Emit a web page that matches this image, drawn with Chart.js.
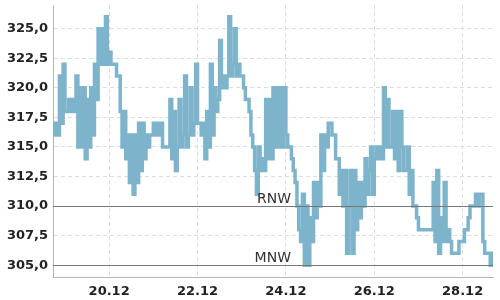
<!DOCTYPE html>
<html>
<head>
<meta charset="utf-8">
<script src="https://cdn.jsdelivr.net/npm/chart.js@4"></script>
<style>
    html, body { margin: 0; padding: 0; background: #fff; }
    #wrap { width: 500px; height: 300px; }
</style>
</head>
<body>
<div id="wrap"><canvas id="pegelChart"></canvas></div>
<script>
// Stundenwerte ab 18.12 17:30 (Stunden seit 18.12 00:00)
const firstHour = 17.5;
const waterLevel = [
    317, 316, 317, 316, 321, 317, 322, 318, 318, 319, 318, 319, 318, 321, 315, 320,
    315, 320, 314, 319, 315, 320, 316, 322, 319, 325, 322, 325, 322, 326, 322, 323,
    322, 322, 322, 321, 321, 318, 315, 318, 314, 316, 312, 316, 311, 316, 312, 317,
    313, 317, 314, 316, 315, 316, 316, 317, 316, 317, 316, 317, 315, 315, 315, 315,
    319, 314, 318, 313, 315, 319, 315, 316, 321, 315, 316, 320, 316, 317, 322, 317,
    317, 316, 317, 314, 318, 315, 322, 316, 320, 318, 319, 324, 320, 321, 320, 321,
    326, 321, 322, 325, 321, 322, 321, 321, 320, 319, 319, 318, 316, 315, 313, 311,
    315, 313, 314, 313, 319, 314, 319, 314, 320, 315, 320, 315, 320, 315, 320, 316,
    315, 315, 314, 313, 312, 310, 308, 307, 311, 305, 310, 305, 309, 307, 312, 309,
    312, 310, 316, 313, 316, 315, 317, 317, 316, 316, 314, 314, 311, 313, 310, 313,
    306, 310, 313, 306, 313, 308, 312, 309, 312, 310, 314, 311, 313, 315, 311, 314,
    315, 314, 315, 314, 320, 315, 319, 315, 315, 318, 314, 318, 313, 318, 315, 313,
    313, 315, 311, 313, 310, 310, 309, 308, 308, 308, 308, 308, 308, 308, 308, 312,
    307, 313, 306, 309, 307, 312, 307, 308, 307, 306, 306, 306, 306, 307, 307, 307,
    308, 308, 309, 310, 310, 310, 311, 310, 311, 311, 307, 306, 306, 306, 305, 306
];
const axisMin = 17.5;
const axisMax = 256.5;
const tickHours = [48, 96, 144, 192, 240];
const tickDays = ['20.12', '22.12', '24.12', '26.12', '28.12'];
const yTicks = [305, 307.5, 310, 312.5, 315, 317.5, 320, 322.5, 325];
const refValues = [310, 305];
const refNames = ['RNW', 'MNW'];

const points = waterLevel.map((v, i) => ({ x: firstHour + i, y: v }));

// Hilfslinien RNW / MNW
const refLinePlugin = {
    id: 'refLines',
    afterDatasetsDraw(chart) {
        const ctx = chart.ctx;
        const area = chart.chartArea;
        const yScale = chart.scales.y;
        ctx.save();
        refValues.forEach((v, i) => {
            const y = Math.round(yScale.getPixelForValue(v)) + 0.5;
            ctx.strokeStyle = '#777';
            ctx.lineWidth = 1;
            ctx.beginPath();
            ctx.moveTo(area.left, y);
            ctx.lineTo(area.right, y);
            ctx.stroke();
            ctx.fillStyle = '#333';
            ctx.font = '14px "DejaVu Sans"';
            ctx.textAlign = 'right';
            ctx.textBaseline = 'alphabetic';
            ctx.fillText(refNames[i], 291, y - 4);
        });
        ctx.restore();
    }
};

const ctx = document.getElementById('pegelChart').getContext('2d');
const pegelChart = new Chart(ctx, {
    type: 'line',
    data: {
        datasets: [{
            data: points,
            borderColor: '#7db4cb',
            borderWidth: 3.5,
            pointRadius: 0,
            stepped: 'middle',
            fill: false
        }]
    },
    options: {
        responsive: true,
        maintainAspectRatio: false,
        animation: false,
        layout: {
            padding: { top: 5, right: 7, left: 0, bottom: 0 }
        },
        plugins: {
            legend: { display: false },
            tooltip: { enabled: false }
        },
        scales: {
            x: {
                type: 'linear',
                min: axisMin,
                max: axisMax,
                afterBuildTicks: axis => {
                    axis.ticks = tickHours.map(h => ({ value: h }));
                },
                afterFit: axis => {
                    axis.height = 23;
                    axis.paddingLeft = 0;
                    axis.paddingRight = 0;
                },
                ticks: {
                    padding: 7,
                    maxRotation: 0,
                    color: '#222',
                    font: { family: 'DejaVu Sans', size: 13, weight: 'bold' },
                    callback: value => tickDays[tickHours.indexOf(value)]
                },
                grid: {
                    color: '#dcdcdc',
                    drawTicks: false
                },
                border: {
                    color: '#b5b5b5',
                    width: 1,
                    dash: [4, 3]
                }
            },
            y: {
                min: 304,
                max: 327,
                afterBuildTicks: axis => {
                    axis.ticks = yTicks.map(v => ({ value: v }));
                },
                afterFit: axis => {
                    axis.width = 53;
                    axis.paddingTop = 0;
                    axis.paddingBottom = 0;
                },
                ticks: {
                    padding: 5,
                    color: '#222',
                    font: { family: 'DejaVu Sans', size: 13, weight: 'bold' },
                    callback: value => value.toFixed(1).replace('.', ',')
                },
                grid: {
                    color: '#dcdcdc',
                    drawTicks: false
                },
                border: {
                    color: '#b5b5b5',
                    width: 1,
                    dash: [4, 3]
                }
            }
        }
    },
    plugins: [refLinePlugin]
});
</script>
</body>
</html>
